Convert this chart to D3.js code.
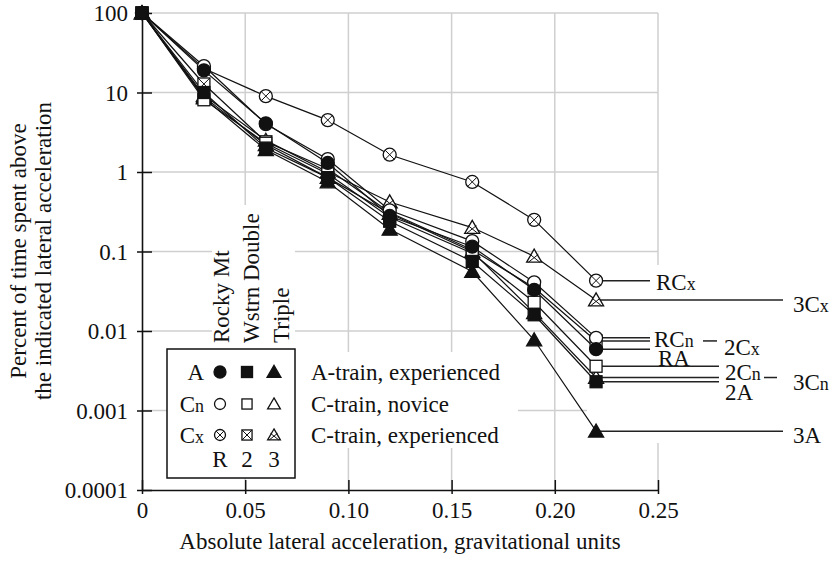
<!DOCTYPE html>
<html><head><meta charset="utf-8">
<script src="https://cdn.jsdelivr.net/npm/d3@7/dist/d3.min.js"></script>
<style>body{margin:0;background:#fff}svg{display:block}text{font-family:"Liberation Serif","Times New Roman",serif;fill:#111}</style>
</head><body><svg id="c" width="833" height="561"></svg>
<script>
const xValues = [0, 0.03, 0.06, 0.09, 0.12, 0.16, 0.19, 0.22];
const seriesNames = ["3Cx","3Cn","3A","2Cx","2Cn","2A","RCx","RCn","RA"];
const val3Cx = [100, 9.2, 2.5, 1.0, 0.42, 0.20, 0.087, 0.0245];
const val3Cn = [100, 8.8, 2.2, 0.85, 0.30, 0.10, 0.017, 0.0026];
const val3A  = [100, 8.5, 1.9, 0.75, 0.19, 0.056, 0.0077, 0.00055];
const val2Cx = [100, 12.8, 2.4, 1.1, 0.31, 0.105, 0.035, 0.0075];
const val2Cn = [100, 8.1, 2.3, 0.95, 0.27, 0.095, 0.023, 0.0036];
const val2A  = [100, 10, 2.0, 0.85, 0.24, 0.075, 0.016, 0.0023];
const valRCx = [100, 20, 9.0, 4.5, 1.65, 0.75, 0.25, 0.043];
const valRCn = [100, 21.5, 4.0, 1.45, 0.33, 0.135, 0.041, 0.0082];
const valRA  = [100, 19, 4.1, 1.3, 0.28, 0.115, 0.033, 0.0059];
const yTicks = [100, 10, 1, 0.1, 0.01, 0.001, 0.0001];
const yTickLabels = ["100","10","1","0.1","0.01","0.001","0.0001"];
const xTicks = [0, 0.05, 0.10, 0.15, 0.20, 0.25];
const xTickLabels = ["0","0.05","0.10","0.15","0.20","0.25"];
const legendRows = ["A","Cn","Cx"];
const legendRowText = ["A-train, experienced","C-train, novice","C-train, experienced"];
const legendCols = ["R","2","3"];
const legendColTitles = ["Rocky Mt","Wstrn Double","Triple"];

const values = {"3Cx":val3Cx,"3Cn":val3Cn,"3A":val3A,"2Cx":val2Cx,"2Cn":val2Cn,"2A":val2A,"RCx":valRCx,"RCn":valRCn,"RA":valRA};
// shape/fill from name
function shapeOf(n){return n[0]==="R"?"circle":(n[0]==="2"?"square":"triangle");}
function styleOf(n){const s=n.slice(1); return s==="A"?"filled":(s==="Cn"?"open":"cross");}

// label layout (pixels)
const ann = {
  "RCx":{end:650,lx:656,dy:9.5},
  "3Cx":{end:783,lx:793,dy:11.5},
  "RCn":{end:650,lx:654,dy:9.5},
  "2Cx":{end:650,lx:724,dy:14.5,dash:[703,717]},
  "RA": {end:650,lx:658,dy:16.5},
  "2Cn":{end:719,lx:725,dy:13.5},
  "3Cn":{end:719,lx:793,dy:12.5,dash:[764,777]},
  "2A": {end:719,lx:725,dy:18.5},
  "3A": {end:783,lx:793,dy:11.5}
};

const svg = d3.select("#c");
const x = d3.scaleLinear().domain([0,0.25]).range([142,658]);
const y = d3.scaleLog().domain([0.0001,100]).range([490,13]);
const FS = 23;

// grid
const grid = svg.append("g").attr("stroke","#cfcfcf").attr("stroke-width",1.5);
grid.selectAll(".h").data(yTicks.filter(d=>d>0.0001)).enter().append("line")
  .attr("x1",x(0)).attr("x2",x(0.25)).attr("y1",d=>y(d)).attr("y2",d=>y(d));
grid.selectAll(".v").data(xTicks.filter(d=>d>0)).enter().append("line")
  .attr("x1",d=>x(d)).attr("x2",d=>x(d)).attr("y1",y(100)).attr("y2",y(0.0001));

// white backgrounds behind texts
svg.append("rect").attr("x",212).attr("y",205).attr("width",83).attr("height",145).attr("fill","#fff");
svg.append("rect").attr("x",295).attr("y",352).attr("width",223).attr("height",96).attr("fill","#fff");
svg.append("rect").attr("x",587).attr("y",265).attr("width",246).attr("height",178).attr("fill","#fff");

// axes
const yAxis = d3.axisLeft(y).tickValues(yTicks).tickFormat((d,i)=>yTickLabels[i]).tickSize(5).tickSizeOuter(0).tickPadding(9);
const gy = svg.append("g").attr("transform",`translate(${x(0)},0)`).call(yAxis);
const xAxis = d3.axisBottom(x).tickValues(xTicks).tickFormat((d,i)=>xTickLabels[i]).tickSize(4).tickSizeOuter(0).tickPadding(24);
const gx = svg.append("g").attr("transform",`translate(0,${y(0.0001)})`).call(xAxis);
[gy,gx].forEach(g=>{g.select(".domain").attr("stroke","#111").attr("stroke-width",1.6);
  g.selectAll(".tick line").attr("stroke","#111").attr("stroke-width",1.5);
  g.selectAll(".tick text").attr("font-family","Liberation Serif").attr("font-size",FS).attr("fill","#111");});
gy.selectAll(".tick line").attr("x1",10);
gy.selectAll(".tick text").attr("dy","0.34em");
gx.selectAll(".tick line").attr("y1",-10);
gx.selectAll(".tick text").attr("dy","0em");

// axis titles
svg.append("text").attr("x",400).attr("y",549).attr("text-anchor","middle").attr("font-size",FS)
  .text("Absolute lateral acceleration, gravitational units");
const yt = svg.append("g").attr("transform","translate(0,251) rotate(-90)");
yt.append("text").attr("x",0).attr("y",26).attr("text-anchor","middle").attr("font-size",FS).text("Percent of time spent above");
yt.append("text").attr("x",0).attr("y",51).attr("text-anchor","middle").attr("font-size",FS).text("the indicated lateral acceleration");

// label helper with small suffix
function labelText(sel, name){
  const m = name.match(/^(.*?C)([nx])$/);
  if(m){ sel.append("tspan").text(m[1]); sel.append("tspan").attr("font-size",FS*0.78).text(m[2]); }
  else sel.text(name);
}

// leader lines
const last = xValues.length-1;
const lead = svg.append("g").attr("stroke","#222").attr("stroke-width",1.5);
seriesNames.forEach(n=>{
  const a = ann[n], py = y(values[n][last]);
  lead.append("line").attr("x1",x(xValues[last])).attr("x2",a.end).attr("y1",py).attr("y2",py);
  if(a.dash) lead.append("line").attr("x1",a.dash[0]).attr("x2",a.dash[1]).attr("y1",py).attr("y2",py);
  labelText(svg.append("text").attr("x",a.lx).attr("y",py+a.dy).attr("font-size",FS), n);
});

// marker drawing
function marker(g, shape, style, cx, cy, s){
  const fill = style==="filled"?"#111":"#fff";
  const sw = 1.3;
  if(shape==="circle"){
    const r=s/2;
    g.append("circle").attr("cx",cx).attr("cy",cy).attr("r",r).attr("fill",fill).attr("stroke","#111").attr("stroke-width",sw);
    if(style==="cross"){const k=r*0.7;
      g.append("path").attr("d",`M${cx-k},${cy-k}L${cx+k},${cy+k}M${cx+k},${cy-k}L${cx-k},${cy+k}`).attr("stroke","#111").attr("stroke-width",1);}
  } else if(shape==="square"){
    const h=s/2*0.92;
    g.append("rect").attr("x",cx-h).attr("y",cy-h).attr("width",2*h).attr("height",2*h).attr("fill",fill).attr("stroke","#111").attr("stroke-width",sw);
    if(style==="cross") g.append("path").attr("d",`M${cx-h},${cy-h}L${cx+h},${cy+h}M${cx+h},${cy-h}L${cx-h},${cy+h}`).attr("stroke","#111").attr("stroke-width",1);
  } else {
    const w=s*0.58, ht=s;
    const top=cy-ht*0.55, bot=cy+ht*0.45;
    g.append("path").attr("d",`M${cx},${top}L${cx+w},${bot}L${cx-w},${bot}Z`).attr("fill",fill).attr("stroke","#111").attr("stroke-width",sw);
    if(style==="cross") g.append("path").attr("d",`M${cx-w*0.55},${cy-ht*0.15}L${cx+w*0.75},${bot}M${cx+w*0.55},${cy-ht*0.15}L${cx-w*0.75},${bot}`).attr("stroke","#111").attr("stroke-width",1);
  }
}

// series
const line = d3.line().x((d,i)=>x(xValues[i])).y(d=>y(d));
const sg = svg.append("g");
seriesNames.forEach(n=>{
  sg.append("path").attr("d",line(values[n])).attr("fill","none").attr("stroke","#111").attr("stroke-width",1.2);
});
seriesNames.forEach(n=>{
  values[n].forEach((v,i)=>marker(sg, shapeOf(n), styleOf(n), x(xValues[i]), y(v), 13));
});

// legend
const lg = svg.append("g");
lg.append("rect").attr("x",167).attr("y",349).attr("width",128).attr("height",129).attr("fill","#fff").attr("stroke","#111").attr("stroke-width",1.5);
const colX = [220,247,274], rowY=[372,404,435];
const styles = ["filled","open","cross"], shapes=["circle","square","triangle"];
legendRows.forEach((r,i)=>{
  labelText(lg.append("text").attr("x",204).attr("y",rowY[i]+8).attr("text-anchor","end").attr("font-size",FS), r);
  shapes.forEach((sh,j)=>marker(lg, sh, styles[i], colX[j], rowY[i], i===0?12:11));
  lg.append("text").attr("x",311).attr("y",rowY[i]+8).attr("font-size",FS).text(legendRowText[i]);
});
legendCols.forEach((c,j)=>lg.append("text").attr("x",colX[j]).attr("y",467).attr("text-anchor","middle").attr("font-size",FS).text(c));
const colTitleX=[229,259,289];
legendColTitles.forEach((t,j)=>lg.append("text").attr("transform",`translate(${colTitleX[j]},343) rotate(-90)`).attr("font-size",FS).text(t));
</script></body></html>
